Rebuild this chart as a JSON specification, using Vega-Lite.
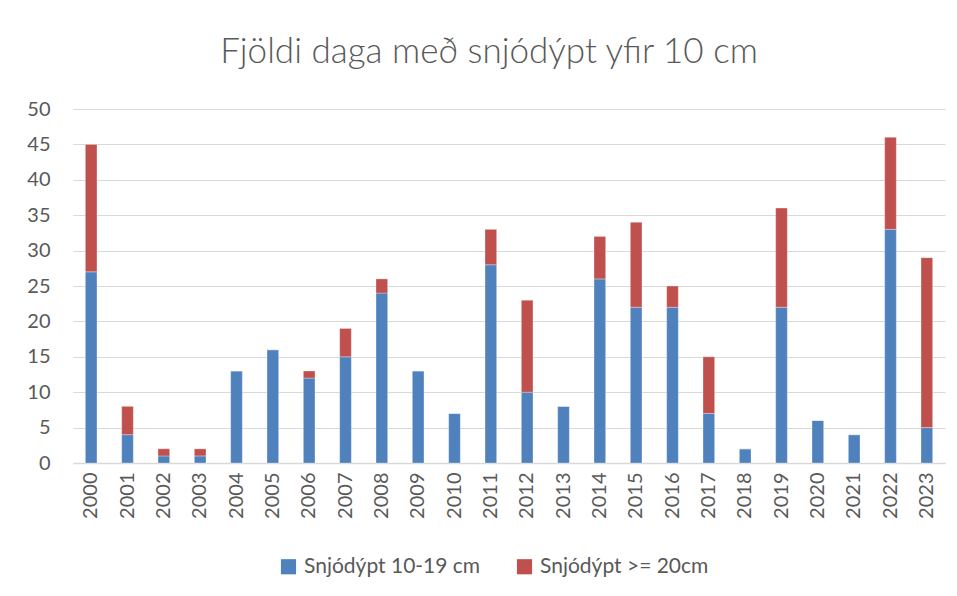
{
  "$schema": "https://vega.github.io/schema/vega-lite/v6.json",
  "width": 872,
  "height": 354,
  "autosize": {"type": "none"},
  "padding": {"left": 73, "top": 109, "right": 12, "bottom": 133},
  "background": "white",
  "title": {
    "text": "Fjöldi daga með snjódýpt yfir 10 cm",
    "font": "Lato",
    "fontSize": 35,
    "fontWeight": 300,
    "color": "#595959",
    "anchor": "middle",
    "offset": 29,
    "dx": -20
  },
  "data": {
    "values": [
      {"year": "2000", "series": "Snjódýpt 10-19 cm", "days": 27},
      {"year": "2000", "series": "Snjódýpt >= 20cm", "days": 18},
      {"year": "2001", "series": "Snjódýpt 10-19 cm", "days": 4},
      {"year": "2001", "series": "Snjódýpt >= 20cm", "days": 4},
      {"year": "2002", "series": "Snjódýpt 10-19 cm", "days": 1},
      {"year": "2002", "series": "Snjódýpt >= 20cm", "days": 1},
      {"year": "2003", "series": "Snjódýpt 10-19 cm", "days": 1},
      {"year": "2003", "series": "Snjódýpt >= 20cm", "days": 1},
      {"year": "2004", "series": "Snjódýpt 10-19 cm", "days": 13},
      {"year": "2004", "series": "Snjódýpt >= 20cm", "days": 0},
      {"year": "2005", "series": "Snjódýpt 10-19 cm", "days": 16},
      {"year": "2005", "series": "Snjódýpt >= 20cm", "days": 0},
      {"year": "2006", "series": "Snjódýpt 10-19 cm", "days": 12},
      {"year": "2006", "series": "Snjódýpt >= 20cm", "days": 1},
      {"year": "2007", "series": "Snjódýpt 10-19 cm", "days": 15},
      {"year": "2007", "series": "Snjódýpt >= 20cm", "days": 4},
      {"year": "2008", "series": "Snjódýpt 10-19 cm", "days": 24},
      {"year": "2008", "series": "Snjódýpt >= 20cm", "days": 2},
      {"year": "2009", "series": "Snjódýpt 10-19 cm", "days": 13},
      {"year": "2009", "series": "Snjódýpt >= 20cm", "days": 0},
      {"year": "2010", "series": "Snjódýpt 10-19 cm", "days": 7},
      {"year": "2010", "series": "Snjódýpt >= 20cm", "days": 0},
      {"year": "2011", "series": "Snjódýpt 10-19 cm", "days": 28},
      {"year": "2011", "series": "Snjódýpt >= 20cm", "days": 5},
      {"year": "2012", "series": "Snjódýpt 10-19 cm", "days": 10},
      {"year": "2012", "series": "Snjódýpt >= 20cm", "days": 13},
      {"year": "2013", "series": "Snjódýpt 10-19 cm", "days": 8},
      {"year": "2013", "series": "Snjódýpt >= 20cm", "days": 0},
      {"year": "2014", "series": "Snjódýpt 10-19 cm", "days": 26},
      {"year": "2014", "series": "Snjódýpt >= 20cm", "days": 6},
      {"year": "2015", "series": "Snjódýpt 10-19 cm", "days": 22},
      {"year": "2015", "series": "Snjódýpt >= 20cm", "days": 12},
      {"year": "2016", "series": "Snjódýpt 10-19 cm", "days": 22},
      {"year": "2016", "series": "Snjódýpt >= 20cm", "days": 3},
      {"year": "2017", "series": "Snjódýpt 10-19 cm", "days": 7},
      {"year": "2017", "series": "Snjódýpt >= 20cm", "days": 8},
      {"year": "2018", "series": "Snjódýpt 10-19 cm", "days": 2},
      {"year": "2018", "series": "Snjódýpt >= 20cm", "days": 0},
      {"year": "2019", "series": "Snjódýpt 10-19 cm", "days": 22},
      {"year": "2019", "series": "Snjódýpt >= 20cm", "days": 14},
      {"year": "2020", "series": "Snjódýpt 10-19 cm", "days": 6},
      {"year": "2020", "series": "Snjódýpt >= 20cm", "days": 0},
      {"year": "2021", "series": "Snjódýpt 10-19 cm", "days": 4},
      {"year": "2021", "series": "Snjódýpt >= 20cm", "days": 0},
      {"year": "2022", "series": "Snjódýpt 10-19 cm", "days": 33},
      {"year": "2022", "series": "Snjódýpt >= 20cm", "days": 13},
      {"year": "2023", "series": "Snjódýpt 10-19 cm", "days": 5},
      {"year": "2023", "series": "Snjódýpt >= 20cm", "days": 24}
    ]
  },
  "mark": {"type": "bar", "stroke": "white", "strokeWidth": 0.5, "strokeOpacity": 0.6},
  "encoding": {
    "x": {
      "field": "year",
      "type": "ordinal",
      "scale": {"paddingInner": 0.68, "paddingOuter": 0.34},
      "axis": {
        "title": null,
        "labelAngle": -90,
        "labelAlign": "right",
        "labelBaseline": "middle",
        "labelFont": "Lato",
        "labelFontSize": 20,
        "labelColor": "#595959",
        "labelPadding": 9,
        "ticks": false,
        "domainColor": "#d9d9d9",
        "domainWidth": 1.5
      }
    },
    "y": {
      "field": "days",
      "type": "quantitative",
      "stack": "zero",
      "scale": {"domain": [0, 50]},
      "axis": {
        "title": null,
        "values": [0, 5, 10, 15, 20, 25, 30, 35, 40, 45, 50],
        "labelFont": "Lato",
        "labelFontSize": 20,
        "labelColor": "#595959",
        "labelPadding": 23,
        "ticks": false,
        "domain": false,
        "gridColor": "#d9d9d9",
        "gridWidth": 1.2
      }
    },
    "color": {
      "field": "series",
      "type": "nominal",
      "scale": {
        "domain": ["Snjódýpt 10-19 cm", "Snjódýpt >= 20cm"],
        "range": ["#4F81BD", "#C0504D"]
      },
      "legend": {
        "title": null,
        "orient": "none",
        "direction": "horizontal",
        "legendX": 205,
        "legendY": 447,
        "symbolType": "square",
        "symbolSize": 230,
        "symbolStrokeWidth": 0,
        "symbolOpacity": 1,
        "labelFont": "Lato",
        "labelFontSize": 21,
        "labelColor": "#595959",
        "labelOffset": 5,
        "labelLimit": 400,
        "columnPadding": 33
      }
    },
    "order": {"field": "series", "type": "nominal", "sort": "ascending"}
  },
  "config": {"view": {"stroke": null}}
}
